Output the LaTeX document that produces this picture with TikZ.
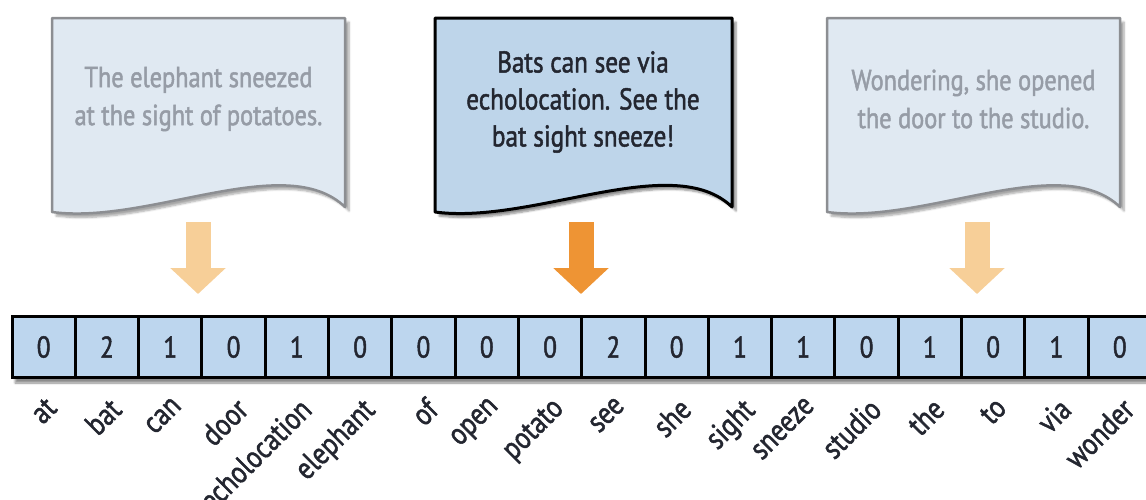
\documentclass[tikz,border=0pt]{standalone}
\usepackage{fontspec}
\setmainfont{PT Sans}
\newfontfamily\condfont[FakeStretch=0.84,FakeBold=1.6]{PT Sans}
\usetikzlibrary{shadows.blur,arrows.meta}
\definecolor{cellfill}{RGB}{189,214,238}
\definecolor{docfill}{RGB}{224,233,242}
\definecolor{docline}{RGB}{140,142,146}
\definecolor{doctext}{RGB}{150,156,166}
\definecolor{midfill}{RGB}{190,213,234}
\definecolor{darktext}{RGB}{35,38,48}
\definecolor{lightorange}{RGB}{247,207,152}
\definecolor{darkorange}{RGB}{238,148,52}
\begin{document}
\begin{tikzpicture}[x=1pt,y=-1pt,
  docside/.style={fill=docfill,draw=docline,line width=2.5pt,line join=round,
    blur shadow={shadow xshift=4pt,shadow yshift=-4pt,shadow opacity=35,shadow blur steps=6}},
  docmid/.style={fill=midfill,draw=black,line width=3pt,line join=round,
    blur shadow={shadow xshift=4pt,shadow yshift=-4pt,shadow opacity=45,shadow blur steps=6}},
  sidetext/.style={text=doctext,align=center,font=\condfont\fontsize{29}{38}\selectfont},
  midtext/.style={text=darktext,align=center,font=\condfont\fontsize{30}{37}\selectfont},
  blockarrow/.style={line width=25pt,-{Triangle[width=54pt,length=26pt]}},
  cell/.style={draw=black,line width=3pt,fill=cellfill,minimum width=63.3pt,minimum height=61pt,
    inner sep=0pt,text=darktext,font=\condfont\fontsize{30}{30}\selectfont},
  lab/.style={rotate=45,anchor=north east,inner sep=0pt,text=darktext,font=\condfont\fontsize{31}{32}\selectfont}]
\useasboundingbox (0,0) rectangle (1146,499);
% documents
\path[docside] (52,18) -- (345,18) -- (345,207) .. controls (286,150) and (149,225) .. (52,212) -- cycle;
\path[docmid] (435,18) -- (732,18) -- (732,207) .. controls (673,150) and (533,225) .. (435,212) -- cycle;
\path[docside] (827,18) -- (1120,18) -- (1120,207) .. controls (1061,150) and (924,225) .. (827,212) -- cycle;
\node[sidetext] (docA) at (198.5,99) {The elephant sneezed\\at the sight of potatoes.};
\node[midtext] (docB) at (583,102) {Bats can see via\\echolocation. See the\\bat sight sneeze!};
\node[sidetext] (docC) at (973.5,99) {Wondering, she opened\\the door to the studio.};
% arrows
\coordinate (aA1) at (198,222); \coordinate (aA2) at (198,294);
\coordinate (aB1) at (581,222); \coordinate (aB2) at (581,294);
\coordinate (aC1) at (977,222); \coordinate (aC2) at (977,294);
\draw[blockarrow,draw=lightorange,fill=lightorange] (aA1) -- (aA2);
\draw[blockarrow,draw=darkorange,fill=darkorange] (aB1) -- (aB2);
\draw[blockarrow,draw=lightorange,fill=lightorange] (aC1) -- (aC2);
% vector
\fill[cellfill,blur shadow={shadow xshift=3pt,shadow yshift=-5pt,shadow opacity=45,shadow blur steps=6}] (12,316) rectangle (1160,378);
\foreach \v/\w [count=\i] in {0/at,2/bat,1/can,0/door,1/echolocation,0/elephant,0/of,0/open,0/potato,2/see,0/she,1/sight,1/sneeze,0/studio,1/the,0/to,1/via,0/wonder}{
  \node[cell] (c\i) at ({12+63.3*(\i-0.5)},347) {\v};
  \node[lab] (l\i) at ({12+63.3*(\i-0.5)+1},396) {\w};
}
\end{tikzpicture}
\end{document}
